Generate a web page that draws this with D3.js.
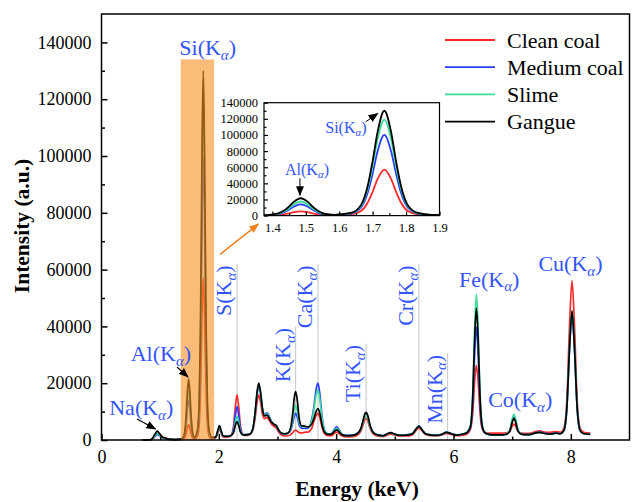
<!DOCTYPE html>
<html><head><meta charset="utf-8">
<script src="https://cdn.jsdelivr.net/npm/d3@7"></script>
<style>body{margin:0;background:#fff}svg{display:block}</style>
</head><body>
<svg id="c" width="632" height="502"></svg>
<script>
const energy = [
0.70,0.80,0.86,0.91,0.95,0.99,1.04,1.09,1.15,1.25,1.31,
1.345,1.385,1.415,1.435,1.45,1.465,1.485,1.505,1.52,1.535,1.555,1.585,
1.635,1.665,1.685,1.70,1.715,1.735,1.755,1.77,1.785,1.805,1.835,1.875,
1.92,1.95,1.985,2.01,2.035,2.07,2.13,
2.20,2.25,2.28,2.31,2.34,2.37,2.42,2.47,
2.52,2.58,2.62,2.65,2.68,2.71,2.74,2.78,2.82,2.85,2.89,2.94,2.98,3.02,3.06,3.12,3.18,
3.22,3.26,3.29,3.31,3.34,3.37,3.41,3.46,3.52,3.58,
3.62,3.66,3.69,3.72,3.76,3.80,3.86,3.92,
3.97,4.01,4.05,4.10,4.18,4.28,4.36,
4.42,4.46,4.49,4.51,4.54,4.57,4.62,4.70,4.80,
4.88,4.93,4.98,5.08,5.20,5.30,
5.36,5.41,5.46,5.52,5.62,5.72,
5.80,5.88,5.96,6.05,6.18,6.24,
6.29,6.33,6.36,6.39,6.42,6.45,6.49,6.54,6.60,6.70,
6.80,6.90,6.96,7.00,7.03,7.06,7.10,7.16,7.24,7.32,
7.40,7.47,7.55,7.65,7.75,
7.82,7.88,7.93,7.98,8.02,8.06,8.11,8.16,8.22,8.33
];
const cleanCoal = [
0,0,200,1200,2300,2200,1100,700,300,150,200,
200,300,700,1600,2900,4300,5300,4300,2900,1600,700,400,
1400,5700,16000,29600,45600,57000,45600,29600,16000,5700,1400,500,
500,800,2700,3800,2700,1100,1000,
1300,4800,11400,15900,11400,4800,1700,1600,
1800,3500,8000,13000,15800,13500,9500,7500,8000,7200,5800,4800,4200,2800,1800,1400,1500,
1800,2600,3300,3500,3100,2600,2500,2700,2800,4000,
6500,8700,9400,8000,4500,2300,1500,1500,
2300,2800,2300,1400,1100,1200,1700,
3100,5400,7200,7600,6700,4600,2400,1400,1200,
1800,2100,1900,1400,1400,1800,
3300,4200,3300,2000,1500,1500,
1800,2300,2000,1500,1800,2300,
3900,10100,20500,26400,20500,10100,3900,2600,2400,2400,
2400,2500,3000,4800,5600,4800,3000,2400,2300,2400,
3000,3200,2800,2700,3000,
2700,4000,13000,41400,56100,41400,13000,4000,2700,2400
];
const mediumCoal = [
0,0,300,1300,1900,1500,800,500,250,150,200,
250,500,1500,4000,7400,11300,14000,11300,7400,4000,1500,750,
2500,10000,28000,52000,80000,100000,80000,52000,28000,10000,2500,800,
800,1100,3200,4500,3200,1400,1300,
1500,3900,8600,11800,8600,3900,1900,2000,
2000,4000,9600,15800,19000,16500,11500,9000,9600,8800,6800,5600,5000,3400,2400,2100,2400,
3200,6000,8700,9400,7800,5200,4200,4100,4200,7000,
11500,18000,20000,16500,8200,3500,2200,2300,
3800,4600,3600,2000,1600,1700,2400,
3800,6600,8700,9200,8000,5500,2900,1800,1500,
2300,2600,2200,1700,1800,2300,
3900,5000,3800,2300,1800,1700,
2000,2800,2300,1800,2200,2700,
4500,14100,30400,39700,30400,14100,4500,2400,2000,1800,
1800,2100,3300,6800,8500,6800,3300,2100,1900,2000,
2600,2800,2400,2200,2500,
2200,3200,10400,32900,44500,32900,10400,3200,2200,2000
];
const slime = [
0,0,300,1500,2300,1700,900,600,300,150,200,
300,600,1900,5000,9200,14100,17500,14100,9200,5000,1900,900,
3000,11900,33300,61900,95200,119000,95200,61900,33300,11900,3000,900,
800,1100,3300,4700,3300,1400,1300,
1500,3000,6100,8200,6100,3000,1800,1900,
2000,4000,9800,16200,19500,16800,11600,8800,9200,8400,6700,5600,5000,3500,2500,2200,2500,
3600,7400,11200,12300,10000,6200,4800,4700,4600,6500,
10500,16000,17600,14500,7500,3300,2100,2200,
3400,4100,3300,1900,1500,1600,2200,
3700,6400,8400,8800,7700,5300,2800,1800,1500,
2200,2500,2100,1600,1700,2200,
3800,4800,3700,2200,1700,1600,
2000,2700,2200,1700,2300,3000,
5300,17900,39200,51400,39200,17900,5300,2600,2000,1800,
1800,2100,3400,7200,9000,7200,3400,2100,1900,2000,
2500,2700,2300,2100,2400,
2200,3300,10700,33800,45800,33800,10700,3300,2200,2000
];
const gangue = [
0,0,400,2000,3100,2200,1000,700,300,150,200,
300,700,2300,6200,11300,17300,21500,17300,11300,6200,2300,1000,
3300,13000,36400,67600,104000,130000,104000,67600,36400,13000,3300,1000,
900,1200,3600,5100,3600,1500,1300,
1500,2600,5000,6500,5000,2700,1700,1800,
2000,4000,10000,16500,20000,17000,11500,8500,8800,8000,6500,5500,5000,3500,2500,2200,2500,
4000,9500,15500,17000,13500,7500,5000,4900,4600,5500,
7500,10200,11100,9500,5200,2800,2000,2100,
3000,3600,2900,1800,1500,1600,2200,
4000,7000,9300,9750,8500,5800,3000,1800,1500,
2300,2600,2200,1600,1700,2200,
3800,4800,3700,2200,1700,1600,
2000,2700,2200,1700,2200,2800,
4900,16300,35500,46400,35500,16300,4900,2500,2000,1800,
1800,2000,3100,6200,7600,6200,3100,2000,1900,2000,
2500,2700,2300,2100,2400,
2200,3300,10600,33500,45400,33500,10600,3300,2200,2000
];
const seriesNames = ["Clean coal","Medium coal","Slime","Gangue"];
const seriesColors = ["#ff2a2a","#2a3cff","#3ddc9c","#000000"];
const xTicks = [0,2,4,6,8];
const xMinorTicks = [1,3,5,7];
const yTicks = [0,20000,40000,60000,80000,100000,120000,140000];
const yMinorTicks = [10000,30000,50000,70000,90000,110000,130000];
const insetXTicks = [1.4,1.5,1.6,1.7,1.8,1.9];
const insetXMinor = [1.45,1.55,1.65,1.75,1.85];
const insetYTicks = [0,20000,40000,60000,80000,100000,120000,140000];
const insetYMinor = [10000,30000,50000,70000,90000,110000,130000];
const lineElements = ["S","K","Ca","Ti","Cr","Mn"];
const lineEnergies = [2.31,3.31,3.69,4.51,5.41,5.90];
const lineHeights = [62000,40000,62000,34000,62000,30500];

const seriesData = [cleanCoal, mediumCoal, slime, gangue];
const FONT = "'Liberation Serif','Times New Roman',serif";
const BLUE = "#3355ff";
const svg = d3.select("#c").style("font-family", FONT);

const x = d3.scaleLinear().domain([0,9]).range([101.5,629.5]);
const y = d3.scaleLinear().domain([0,150000]).range([440,14]);

const defs = svg.append("defs");
function marker(id, color){
  defs.append("marker").attr("id",id).attr("markerUnits","userSpaceOnUse")
    .attr("markerWidth",10).attr("markerHeight",8).attr("refX",9).attr("refY",4)
    .attr("orient","auto")
    .append("path").attr("d","M0,0 L10,4 L0,8 Z").attr("fill",color);
}
marker("ah","#000"); marker("aho","#f5821f");

// gray element lines
svg.append("g").selectAll("line").data(lineEnergies).join("line")
  .attr("x1",d=>x(d)).attr("x2",d=>x(d))
  .attr("y1",y(0)).attr("y2",(d,i)=>y(lineHeights[i]))
  .attr("stroke","#c4c4c4").attr("stroke-width",1);

// main lines
const line = d3.line().x((d,i)=>x(energy[i])).y(d=>y(d)).curve(d3.curveMonotoneX);
svg.append("g").selectAll("path").data(seriesData).join("path")
  .attr("d",line).attr("fill","none").attr("stroke-linejoin","round")
  .attr("stroke",(d,i)=>seriesColors[i]).attr("stroke-width",1.7);

// orange highlight
svg.append("rect").attr("x",x(1.35)).attr("width",x(1.92)-x(1.35))
  .attr("y",y(134000)).attr("height",y(0)-y(134000))
  .attr("fill","#f7901e").attr("opacity",0.6);

// axes
const gx = svg.append("g").attr("transform","translate(0,440)");
gx.call(d3.axisBottom(x).tickValues(xTicks).tickSize(-6).tickPadding(10.5).tickFormat(d3.format("d")));
const gxm = svg.append("g").attr("transform","translate(0,440)");
gxm.call(d3.axisBottom(x).tickValues(xMinorTicks).tickSize(-3.5).tickFormat(""));
const gy = svg.append("g").attr("transform","translate(101.5,0)");
gy.call(d3.axisLeft(y).tickValues(yTicks).tickSize(-6).tickPadding(10).tickFormat(d3.format("d")));
const gym = svg.append("g").attr("transform","translate(101.5,0)");
gym.call(d3.axisLeft(y).tickValues(yMinorTicks).tickSize(-3.5).tickFormat(""));
[gx,gxm,gy,gym].forEach(g=>{
  g.select(".domain").remove();
  g.selectAll(".tick line").attr("stroke","#000").attr("stroke-width",1.5);
  g.selectAll("text").attr("font-family",FONT).attr("font-size",18).attr("fill","#000");
});
svg.append("rect").attr("x",101.5).attr("y",14).attr("width",528).attr("height",426)
  .attr("fill","none").attr("stroke","#000").attr("stroke-width",1.5);

// axis titles
svg.append("text").attr("x",357).attr("y",496).attr("text-anchor","middle")
  .attr("font-weight","bold").attr("font-size",21.5).text("Energy (keV)");
svg.append("text").attr("transform","translate(29,226) rotate(-90)").attr("text-anchor","middle")
  .attr("font-weight","bold").attr("font-size",21.5).text("Intensity (a.u.)");

function ka(t, el, fs){
  t.append("tspan").text(el+"(K");
  t.append("tspan").attr("font-size",fs*0.68).attr("font-style","italic").attr("dy",fs*0.22).text("α");
  t.append("tspan").attr("dy",-fs*0.22).text(")");
}
// horizontal labels
const hLabels = [["Na",0.678,8800],["Al",1.012,27800],["Si",1.81,135560],["Fe",6.608,54000],["Co",7.137,11700],["Cu",7.994,59600]];
hLabels.forEach(([el,ex,ey])=>{
  const t = svg.append("text").attr("x",x(ex)).attr("y",y(ey)).attr("text-anchor","middle")
    .attr("font-size",22).attr("fill",BLUE);
  ka(t, el, 22);
});
// rotated labels
lineElements.forEach((el,i)=>{
  const t = svg.append("text")
    .attr("transform",`translate(${x(lineEnergies[i])-6},${y(lineHeights[i])+1.5}) rotate(-90)`)
    .attr("text-anchor","end").attr("font-size",22).attr("fill",BLUE);
  ka(t, el, 22);
});
// arrows main
function arrow(x1,y1,x2,y2,color,mk,w){
  svg.append("line").attr("x1",x1).attr("y1",y1).attr("x2",x2).attr("y2",y2)
    .attr("stroke",color).attr("stroke-width",w).attr("marker-end",`url(#${mk})`);
}
arrow(x(0.605),y(7400),x(0.92),y(3870),"#000","ah",1.2);
arrow(x(1.287),y(25700),x(1.474),y(22200),"#000","ah",1.2);
arrow(x(2.02),y(65400),x(2.673),y(76000),"#f5821f","aho",1.6);

// legend
seriesNames.forEach((n,i)=>{
  const ly = 40 + i*27.2;
  svg.append("line").attr("x1",445).attr("x2",495).attr("y1",ly).attr("y2",ly)
    .attr("stroke",seriesColors[i]).attr("stroke-width",1.8);
  svg.append("text").attr("x",507).attr("y",ly+7.5).attr("font-size",22).attr("fill","#000").text(n);
});

// inset
const xi = d3.scaleLinear().domain([1.375,1.9]).range([264,439.5]);
const yi = d3.scaleLinear().domain([0,140000]).range([215.6,102.7]);
defs.append("clipPath").attr("id","ic").append("rect")
  .attr("x",264).attr("y",95).attr("width",175.5).attr("height",120.6);
const lineI = d3.line().x((d,i)=>xi(energy[i])).y(d=>yi(d)).curve(d3.curveMonotoneX);
svg.append("rect").attr("x",264).attr("y",102.7).attr("width",175.5).attr("height",112.9).attr("fill","#fff");
svg.append("g").attr("clip-path","url(#ic)").selectAll("path").data(seriesData).join("path")
  .attr("d",lineI).attr("fill","none")
  .attr("stroke",(d,i)=>seriesColors[i]).attr("stroke-width",1.8);
const ix = svg.append("g").attr("transform","translate(0,215.6)");
ix.call(d3.axisBottom(xi).tickValues(insetXTicks).tickSize(-4).tickPadding(7.5).tickFormat(d3.format(".1f")));
const ixm = svg.append("g").attr("transform","translate(0,215.6)");
ixm.call(d3.axisBottom(xi).tickValues(insetXMinor).tickSize(-2.5).tickFormat(""));
const iy = svg.append("g").attr("transform","translate(264,0)");
iy.call(d3.axisLeft(yi).tickValues(insetYTicks).tickSize(-4).tickPadding(6).tickFormat(d3.format("d")));
const iym = svg.append("g").attr("transform","translate(264,0)");
iym.call(d3.axisLeft(yi).tickValues(insetYMinor).tickSize(-2.5).tickFormat(""));
[ix,ixm,iy,iym].forEach(g=>{
  g.select(".domain").remove();
  g.selectAll(".tick line").attr("stroke","#000").attr("stroke-width",1.2);
  g.selectAll("text").attr("font-family",FONT).attr("font-size",12.5).attr("fill","#000");
});
svg.append("rect").attr("x",264).attr("y",102.7).attr("width",175.5).attr("height",112.9)
  .attr("fill","none").attr("stroke","#000").attr("stroke-width",1.2);
[["Al",1.5036,50400],["Si",1.62,102500]].forEach(([el,ex,ey])=>{
  const t = svg.append("text").attr("x",xi(ex)).attr("y",yi(ey)).attr("text-anchor","middle")
    .attr("font-size",16).attr("fill",BLUE);
  ka(t, el, 16);
});
arrow(xi(1.4825),yi(46200),xi(1.4825),yi(25300),"#000","ah",1);
arrow(xi(1.679),yi(116200),xi(1.715),yi(126600),"#000","ah",1);
</script>
</body></html>
